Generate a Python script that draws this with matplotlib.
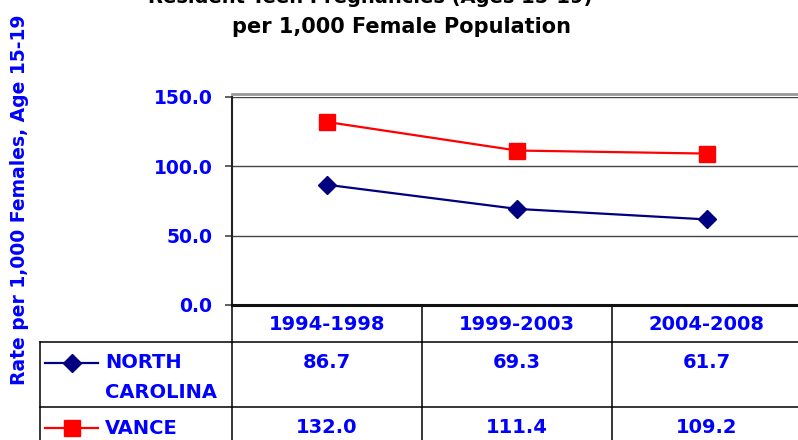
import matplotlib
matplotlib.use("Agg")
import matplotlib.pyplot as plt
import matplotlib.transforms as mtransforms

# data
periods = ["1994-1998", "1999-2003", "2004-2008"]
nc_rates = [86.7, 69.3, 61.7]
vance_rates = [132.0, 111.4, 109.2]
y_ticks = [0, 50, 100, 150]

BLUE = "#0000FF"
NAVY = "#000080"
RED = "#FF0000"

plt.rcParams["font.family"] = ["DejaVu Sans"]
plt.rcParams["font.weight"] = "bold"

W, H = 798, 440
fig = plt.figure(figsize=(W / 100, H / 100), dpi=100)

# plot area in pixels: x 232..802 (right edge runs past the figure), y 97..305
ax = fig.add_axes([232 / W, (H - 305) / H, (802 - 232) / W, (305 - 97) / H])

x = list(range(len(periods)))
ax.plot(x, nc_rates, color=NAVY, lw=1.6, marker="D", ms=9, zorder=3)
ax.plot(x, vance_rates, color=RED, lw=1.6, marker="s", ms=11, zorder=3)

ax.set_xlim(-0.5, len(periods) - 0.5)
ax.set_ylim(0, 150)
ax.set_yticks(y_ticks)
ax.set_yticklabels([f"{v:.1f}" for v in y_ticks])
ax.set_xticks([])
ax.tick_params(axis="y", colors="#444444", labelcolor=BLUE, labelsize=13.5,
               length=5, width=1.2, pad=9, direction="out")
ax.yaxis.grid(True, color="#444444", lw=1)
ax.set_axisbelow(True)

ax.spines["right"].set_visible(False)
ax.spines["top"].set_color("#999999")
ax.spines["top"].set_linewidth(2)
ax.spines["top"].set_position(("outward", 2))
ax.spines["left"].set_color("#222222")
ax.spines["left"].set_linewidth(1.5)
ax.spines["bottom"].set_color("#111111")
ax.spines["bottom"].set_linewidth(2.2)

# table below the plot: x in data units, y in axes units
tr = mtransforms.blended_transform_factory(ax.transData, ax.transAxes)
px_per_unit = 190.0


def ax_y(ypx):
    return (305 - ypx) / 208.0


def data_x(xpx):
    return -0.5 + (xpx - 232) / px_per_unit


x_left = data_x(40)
x_right = len(periods) - 0.5
y_bot = ax_y(H + 5)

line_kw = dict(transform=tr, clip_on=False, color="black", lw=1.1)
ax.plot([x_left, x_right], [ax_y(342)] * 2, **line_kw)
ax.plot([x_left, x_right], [ax_y(407)] * 2, **line_kw)
ax.plot([x_left, x_left], [ax_y(342), y_bot], **line_kw)
for i in range(len(periods)):
    ax.plot([i - 0.5, i - 0.5], [0, y_bot], **line_kw)

txt_kw = dict(transform=tr, color=BLUE, fontsize=14, fontweight="bold",
              ha="center", va="center", clip_on=False)
for i, p in enumerate(periods):
    ax.text(i, ax_y(324), p, **txt_kw)
    ax.text(i, ax_y(362), f"{nc_rates[i]:.1f}", **txt_kw)
    ax.text(i, ax_y(427), f"{vance_rates[i]:.1f}", **txt_kw)

# legend keys in the first table column
for ypx, col, mk, ms in [(363, NAVY, "D", 9), (428, RED, "s", 11)]:
    ax.plot([data_x(45), data_x(98)], [ax_y(ypx)] * 2, color=col, lw=1.6,
            transform=tr, clip_on=False)
    ax.plot([data_x(72)], [ax_y(ypx)], color=col, marker=mk, ms=ms,
            transform=tr, clip_on=False)
lab_kw = dict(transform=tr, color=BLUE, fontsize=14, fontweight="bold",
              ha="left", va="center", clip_on=False)
ax.text(data_x(105), ax_y(363), "NORTH", **lab_kw)
ax.text(data_x(105), ax_y(392), "CAROLINA", **lab_kw)
ax.text(data_x(105), ax_y(428), "VANCE", **lab_kw)

# axis label and title (first title line is cut by the top edge, as in the reference)
fig.text(20 / W, 1 - 200 / H, "Rate per 1,000 Females, Age 15-19", rotation=90,
         color=BLUE, fontsize=13.5, fontweight="bold", ha="center", va="center")
fig.text(370 / W, 1 - 3 / H, "Resident Teen Pregnancies (Ages 15-19)",
         color="black", fontsize=14, fontweight="bold", ha="center", va="baseline")
fig.text(402 / W, 1 - 33 / H, "per 1,000 Female Population",
         color="black", fontsize=15, fontweight="bold", ha="center", va="baseline")

fig.savefig("out.png", dpi=100)
